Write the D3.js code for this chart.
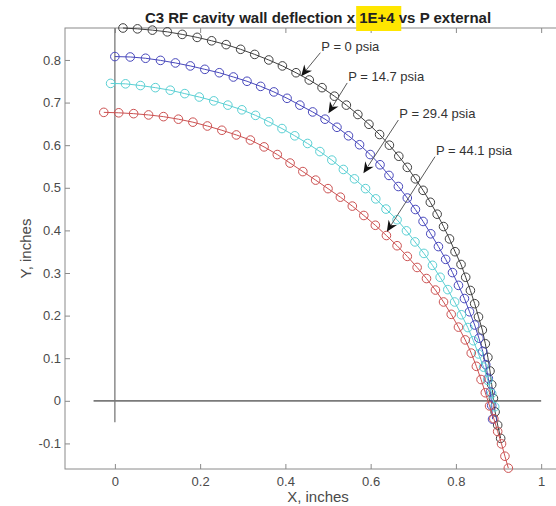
<!DOCTYPE html>
<html>
<head>
<meta charset="utf-8">
<script src="https://cdn.jsdelivr.net/npm/d3@7"></script>
<style>
  body { margin: 0; background: #ffffff; }
  svg { display: block; font-family: Arial, "Liberation Sans", Helvetica, sans-serif; }
</style>
</head>
<body>
<div id="chart-container"></div>
<script>
// Wall profile points [x, y] in inches (deflection magnified 1E+4)
const p0Points = [
  [0.019, 0.875], [0.053, 0.873], [0.088, 0.870], [0.123, 0.866], [0.158, 0.860],
  [0.193, 0.853], [0.227, 0.845], [0.261, 0.836], [0.295, 0.825], [0.328, 0.813],
  [0.361, 0.800], [0.393, 0.786], [0.425, 0.770], [0.456, 0.753], [0.486, 0.735],
  [0.515, 0.715], [0.543, 0.694], [0.570, 0.672], [0.596, 0.649], [0.621, 0.625],
  [0.644, 0.600], [0.666, 0.574], [0.686, 0.548], [0.705, 0.521], [0.723, 0.494],
  [0.740, 0.466], [0.756, 0.438], [0.771, 0.409], [0.785, 0.380], [0.798, 0.350],
  [0.812, 0.320], [0.823, 0.290], [0.834, 0.259], [0.844, 0.228], [0.853, 0.197],
  [0.862, 0.166], [0.869, 0.134], [0.875, 0.102], [0.880, 0.070], [0.884, 0.038],
  [0.888, 0.006], [0.892, -0.026], [0.898, -0.057], [0.905, -0.088]
];

const p14Points = [
  [0.000, 0.808], [0.036, 0.807], [0.072, 0.804], [0.107, 0.799], [0.142, 0.793],
  [0.177, 0.786], [0.211, 0.778], [0.245, 0.770], [0.278, 0.760], [0.310, 0.750],
  [0.342, 0.738], [0.373, 0.725], [0.404, 0.710], [0.434, 0.694], [0.464, 0.678],
  [0.493, 0.661], [0.521, 0.642], [0.548, 0.622], [0.574, 0.601], [0.599, 0.578],
  [0.622, 0.554], [0.643, 0.529], [0.665, 0.503], [0.686, 0.476], [0.705, 0.449],
  [0.723, 0.421], [0.741, 0.392], [0.759, 0.362], [0.776, 0.332], [0.792, 0.301],
  [0.806, 0.271], [0.820, 0.240], [0.832, 0.209], [0.844, 0.178], [0.854, 0.147],
  [0.863, 0.116], [0.870, 0.085], [0.876, 0.053], [0.881, 0.021], [0.884, -0.011],
  [0.886, -0.043]
];

const p29Points = [
  [-0.010, 0.745], [0.025, 0.744], [0.060, 0.740], [0.095, 0.735], [0.130, 0.729],
  [0.164, 0.721], [0.198, 0.713], [0.232, 0.704], [0.265, 0.694], [0.298, 0.683],
  [0.330, 0.670], [0.361, 0.655], [0.392, 0.639], [0.422, 0.622], [0.452, 0.604],
  [0.481, 0.585], [0.509, 0.565], [0.536, 0.543], [0.562, 0.521], [0.588, 0.498],
  [0.612, 0.474], [0.636, 0.450], [0.662, 0.425], [0.684, 0.399], [0.704, 0.373],
  [0.725, 0.346], [0.745, 0.318], [0.763, 0.290], [0.781, 0.261], [0.797, 0.232],
  [0.813, 0.202], [0.828, 0.172], [0.841, 0.141], [0.853, 0.110], [0.865, 0.079],
  [0.875, 0.048], [0.884, 0.017], [0.891, -0.014]
];

const p44Points = [
  [-0.026, 0.677], [0.009, 0.676], [0.044, 0.674], [0.079, 0.671], [0.114, 0.667],
  [0.149, 0.661], [0.183, 0.654], [0.217, 0.645], [0.251, 0.635], [0.285, 0.624],
  [0.318, 0.612], [0.350, 0.596], [0.381, 0.578], [0.411, 0.558], [0.441, 0.538],
  [0.471, 0.518], [0.500, 0.498], [0.529, 0.478], [0.557, 0.457], [0.584, 0.435],
  [0.611, 0.412], [0.637, 0.388], [0.662, 0.364], [0.686, 0.339], [0.709, 0.313],
  [0.731, 0.287], [0.752, 0.260], [0.771, 0.232], [0.789, 0.203], [0.806, 0.173],
  [0.822, 0.143], [0.836, 0.112], [0.848, 0.081], [0.859, 0.050], [0.869, 0.019],
  [0.879, -0.012], [0.889, -0.042], [0.898, -0.072], [0.907, -0.101], [0.915, -0.130],
  [0.923, -0.158]
];

const pressureLabels = ["P = 0 psia", "P = 14.7 psia", "P = 29.4 psia", "P = 44.1 psia"];

// Annotation arrows (data units): where the text sits and where the arrow points
const arrowTails = [[0.482, 0.817], [0.545, 0.746], [0.665, 0.659], [0.751, 0.573]];
const arrowTips = [[0.437, 0.762], [0.501, 0.675], [0.583, 0.534], [0.638, 0.397]];

const xTicks = [0, 0.2, 0.4, 0.6, 0.8, 1];
const yTicks = [-0.1, 0, 0.1, 0.2, 0.3, 0.4, 0.5, 0.6, 0.7, 0.8];
const xDomain = [-0.117, 1.07];
const yDomain = [-0.16, 0.875];

const titleParts = ["C3 RF cavity wall deflection x ", "1E+4", " vs P external"];
const xLabel = "X, inches";
const yLabel = "Y, inches";

// Plot constants
const width = 556;
const height = 506;
const plot = { left: 65, right: 571, top: 28, bottom: 469 };
const axisColor = "#8a8a8a";
const textColor = "#4a4a4a";
const fontFamily = 'Arial, "Liberation Sans", Helvetica, sans-serif';
const curveColors = ["#404040", "#4848bc", "#5ad0d4", "#cc5252"];

const x = d3.scaleLinear().domain(xDomain).range([plot.left, plot.right]);
const y = d3.scaleLinear().domain(yDomain).range([plot.bottom, plot.top]);

const svg = d3
  .select("#chart-container")
  .append("svg")
  .attr("width", width)
  .attr("height", height);

// Axes box
svg
  .append("rect")
  .attr("x", plot.left)
  .attr("y", plot.top)
  .attr("width", plot.right - plot.left)
  .attr("height", plot.bottom - plot.top)
  .style("fill", "none")
  .style("stroke", axisColor)
  .style("stroke-width", 1);

function styleAxis(g) {
  g.select(".domain").remove();
  g.selectAll(".tick line").style("stroke", axisColor);
  g.selectAll(".tick text")
    .style("fill", textColor)
    .style("font-size", "13px")
    .style("font-family", fontFamily);
}

svg
  .append("g")
  .attr("transform", `translate(0,${plot.bottom})`)
  .call(d3.axisBottom(x).tickValues(xTicks).tickSize(-5).tickPadding(8).tickFormat((d) => String(d)))
  .call(styleAxis);

svg
  .append("g")
  .attr("transform", `translate(0,${plot.top})`)
  .call(d3.axisTop(x).tickValues(xTicks).tickSize(-5).tickFormat(""))
  .call(styleAxis);

svg
  .append("g")
  .attr("transform", `translate(${plot.left},0)`)
  .call(d3.axisLeft(y).tickValues(yTicks).tickSize(-5).tickPadding(4).tickFormat((d) => String(d)))
  .call(styleAxis);

// Reference lines through the origin
svg
  .append("line")
  .attr("x1", x(-0.05))
  .attr("x2", x(1))
  .attr("y1", y(0))
  .attr("y2", y(0))
  .style("stroke", "#7a7a7a")
  .style("stroke-width", 1.6);

svg
  .append("line")
  .attr("x1", x(0))
  .attr("x2", x(0))
  .attr("y1", y(-0.05))
  .attr("y2", y(yDomain[1]))
  .style("stroke", "#7a7a7a")
  .style("stroke-width", 1.3);

// Curves with open circle markers
const lineGen = d3
  .line()
  .x((d) => x(d[0]))
  .y((d) => y(d[1]));

[p0Points, p14Points, p29Points, p44Points].forEach((points, i) => {
  const color = curveColors[i];
  const g = svg.append("g");
  g.append("path")
    .attr("d", lineGen(points))
    .style("fill", "none")
    .style("stroke", color)
    .style("stroke-width", 1);
  g.selectAll("circle")
    .data(points)
    .join("circle")
    .attr("cx", (d) => x(d[0]))
    .attr("cy", (d) => y(d[1]))
    .attr("r", 4.3)
    .style("fill", "none")
    .style("stroke", color)
    .style("stroke-width", 1);
});

// Text arrows
pressureLabels.forEach((label, i) => {
  const tx = x(arrowTails[i][0]);
  const ty = y(arrowTails[i][1]);
  const hx = x(arrowTips[i][0]);
  const hy = y(arrowTips[i][1]);
  const angle = Math.atan2(hy - ty, hx - tx);

  svg
    .append("line")
    .attr("x1", tx)
    .attr("y1", ty)
    .attr("x2", hx - 8 * Math.cos(angle))
    .attr("y2", hy - 8 * Math.sin(angle))
    .style("stroke", "#5a5a5a")
    .style("stroke-width", 1);

  svg
    .append("path")
    .attr("d", "M0,0 L-11,-5 L-7.5,0 L-11,5 Z")
    .attr("transform", `translate(${hx},${hy}) rotate(${(angle * 180) / Math.PI})`)
    .style("fill", "#111");

  svg
    .append("text")
    .attr("x", tx + 1)
    .attr("y", ty - 2)
    .style("font-size", "13px")
    .style("fill", "#333")
    .text(label);
});

// Title with highlighted factor
const title = svg
  .append("text")
  .attr("x", (plot.left + plot.right) / 2)
  .attr("y", 23)
  .attr("text-anchor", "middle")
  .style("font-size", "15px")
  .style("font-weight", "bold")
  .style("fill", "#222")
  .style("white-space", "pre");

const titleSpans = titleParts.map((part) => title.append("tspan").text(part));
const hb = titleSpans[1].node().getBBox();
svg
  .insert("rect", () => title.node())
  .attr("x", hb.x - 3)
  .attr("y", 6)
  .attr("width", hb.width + 9)
  .attr("height", 25)
  .style("fill", "#ffe600");

// Axis labels
svg
  .append("text")
  .attr("x", (plot.left + plot.right) / 2)
  .attr("y", 502)
  .attr("text-anchor", "middle")
  .style("font-size", "15px")
  .style("fill", textColor)
  .text(xLabel);

svg
  .append("text")
  .attr("transform", `translate(31,${(plot.top + plot.bottom) / 2}) rotate(-90)`)
  .attr("text-anchor", "middle")
  .style("font-size", "15px")
  .style("fill", textColor)
  .text(yLabel);
</script>
</body>
</html>
